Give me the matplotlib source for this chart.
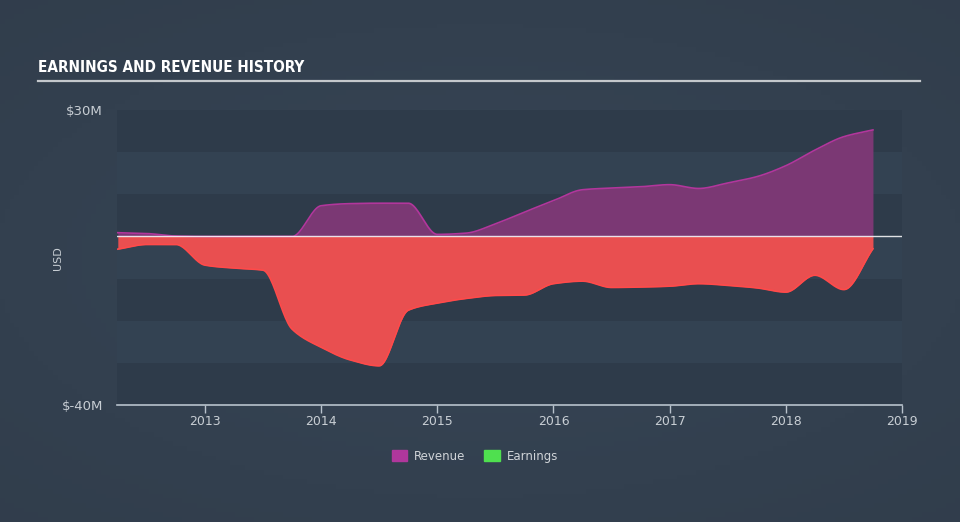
import numpy as np
import matplotlib
matplotlib.use("Agg")
import matplotlib.pyplot as plt
from matplotlib.patches import Patch

# quarterly data, $M
quarters = [2012.25, 2012.5, 2012.75, 2013.0, 2013.25, 2013.5, 2013.75,
            2014.0, 2014.25, 2014.5, 2014.75, 2015.0, 2015.25, 2015.5,
            2015.75, 2016.0, 2016.25, 2016.5, 2016.75, 2017.0, 2017.25,
            2017.5, 2017.75, 2018.0, 2018.25, 2018.5, 2018.75]
revenue = [0.9, 0.7, 0.1, 0.0, 0.0, 0.0, 0.0,
           7.3, 7.8, 7.9, 7.9, 0.5, 0.8, 3.0,
           5.8, 8.5, 11.1, 11.5, 11.8, 12.3, 11.4,
           12.7, 14.2, 16.8, 20.5, 23.7, 25.3]
earnings = [-3.0, -1.9, -1.9, -6.8, -7.5, -8.0, -22.0,
            -26.3, -29.3, -30.7, -17.5, -15.8, -14.7, -14.0,
            -13.9, -11.2, -10.6, -12.1, -12.0, -11.8, -11.2,
            -11.6, -12.2, -13.2, -9.2, -12.6, -2.9]
year_ticks = [2013, 2014, 2015, 2016, 2017, 2018, 2019]
y_ticks = [30, -40]
y_labels = ["$30M", "$-40M"]


def monotone(x, y, n=600):
    # Fritsch-Carlson monotone cubic, for the smooth look of the original
    x = np.asarray(x, float)
    y = np.asarray(y, float)
    h = np.diff(x)
    d = np.diff(y) / h
    m = np.zeros_like(y)
    m[0], m[-1] = d[0], d[-1]
    for i in range(1, len(y) - 1):
        if d[i - 1] * d[i] > 0:
            w1 = 2 * h[i] + h[i - 1]
            w2 = h[i] + 2 * h[i - 1]
            m[i] = (w1 + w2) / (w1 / d[i - 1] + w2 / d[i])
    xs = np.linspace(x[0], x[-1], n)
    k = np.clip(np.searchsorted(x, xs) - 1, 0, len(x) - 2)
    t = (xs - x[k]) / h[k]
    h00 = 2 * t**3 - 3 * t**2 + 1
    h10 = t**3 - 2 * t**2 + t
    h01 = -2 * t**3 + 3 * t**2
    h11 = t**3 - t**2
    ys = h00 * y[k] + h10 * h[k] * m[k] + h01 * y[k + 1] + h11 * h[k] * m[k + 1]
    return xs, ys


fig = plt.figure(figsize=(9.6, 5.22), dpi=100)

# soft background gradient
bg = fig.add_axes([0, 0, 1, 1], zorder=-10)
gx, gy = np.meshgrid(np.linspace(-1, 1, 200), np.linspace(-1, 1, 110))
w = np.exp(-((gx * 0.9) ** 2 + gy ** 2) / 1.2)
c0 = np.array([0x30, 0x3c, 0x4a]) / 255
c1 = np.array([0x36, 0x44, 0x54]) / 255
img = c0[None, None, :] + (c1 - c0)[None, None, :] * w[:, :, None]
bg.imshow(img, aspect="auto", extent=[0, 1, 0, 1])
bg.axis("off")

ax = fig.add_axes([117 / 960, 1 - 405 / 522, (902 - 117) / 960, (405 - 108) / 522])
ax.set_facecolor("none")
ax.set_xlim(2012.243, 2019.0)
ax.set_ylim(-40, 30.5)

# horizontal bands
for i, lo in enumerate(range(-40, 30, 10)):
    col = "#2e3b4a" if i % 2 == 0 else "#334252"
    ax.axhspan(lo, lo + 10, color=col, zorder=0, lw=0)

xr, yr = monotone(quarters, revenue)
xe, ye = monotone(quarters, earnings)
ax.fill_between(xr, 0, yr, color="#7b3874", lw=0, zorder=2)
ax.plot(xr, yr, color="#b2369c", lw=1.2, zorder=3)
ax.fill_between(xe, 0, ye, color="#e94f50", lw=0, zorder=2)
ax.plot(xe, ye, color="#ff4a4a", lw=1.2, zorder=3)
ax.axhline(0, color="white", lw=1, alpha=0.85, zorder=4)

for s in ["top", "right", "left"]:
    ax.spines[s].set_visible(False)
ax.spines["bottom"].set_color("#b8c2cc")
ax.spines["bottom"].set_linewidth(1.2)
ax.set_xticks(year_ticks)
ax.set_xticklabels([str(y) for y in year_ticks])
ax.tick_params(axis="x", colors="#b8c2cc", labelcolor="#c8ced4",
               labelsize=9, length=6, width=1, pad=1.5)
ax.set_yticks(y_ticks)
ax.set_yticklabels(y_labels)
ax.tick_params(axis="y", length=0, labelcolor="#c8ced4", labelsize=9.5, pad=10)
ax.set_ylabel("USD", color="#c8ced4", fontsize=8)
ax.yaxis.set_label_coords(-0.069, 0.495)

fig.text(38 / 960, 1 - 68 / 522, "EARNINGS AND REVENUE HISTORY", color="white",
         fontsize=11, fontweight="bold", fontstretch="condensed",
         va="center", ha="left",
         family=["DejaVu Sans Condensed", "DejaVu Sans"])
fig.add_artist(plt.Line2D([38 / 960, 920 / 960], [1 - 81 / 522, 1 - 81 / 522],
                          color="#c4c8cc", lw=1.6))

handles = [Patch(color="#b0379c", label="Revenue"),
           Patch(color="#4fe04f", label="Earnings")]
fig.legend(handles=handles, loc="center", bbox_to_anchor=(475 / 960, 1 - 456 / 522),
           ncol=2, frameon=False, fontsize=8.5, labelcolor="#d0d4d8",
           handlelength=1.3, handleheight=1.1, columnspacing=1.6, handletextpad=0.6)

fig.savefig("out.png", dpi=100)
